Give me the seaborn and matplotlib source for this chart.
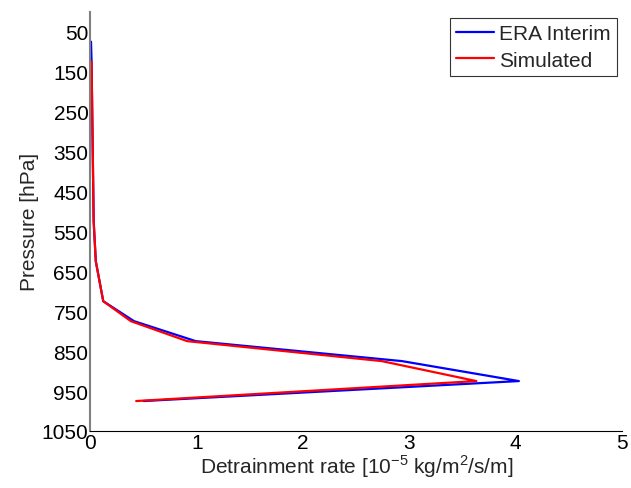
import pandas as pd
import numpy as np
import seaborn as sns
import matplotlib.pyplot as plt

# profiles
p_era = [75, 125, 225, 325, 425, 525, 625, 725, 775, 825, 875, 925, 975]
era = [0.005, 0.01, 0.015, 0.02, 0.025, 0.03, 0.05, 0.12, 0.41, 0.99, 2.93, 4.03, 0.50]
p_sim = [125, 225, 325, 425, 525, 625, 725, 775, 825, 875, 925, 975]
sim = [0.01, 0.015, 0.02, 0.025, 0.03, 0.05, 0.12, 0.38, 0.91, 2.74, 3.63, 0.43]

df = pd.concat([
    pd.DataFrame({"Pressure": p_era, "Rate": era, "Source": "ERA Interim"}),
    pd.DataFrame({"Pressure": p_sim, "Rate": sim, "Source": "Simulated"}),
])

sns.set_style("white")
plt.rcParams["font.family"] = ["Liberation Sans", "DejaVu Sans"]
plt.rcParams["mathtext.fontset"] = "custom"
plt.rcParams["mathtext.rm"] = "Liberation Sans"

fig = plt.figure(figsize=(6.31, 4.89), dpi=100)
ax = fig.add_axes([0.1434, 0.1166, 0.8423, 0.8574])

sns.lineplot(data=df, x="Rate", y="Pressure", hue="Source", sort=False, estimator=None,
             palette={"ERA Interim": "#0000ff", "Simulated": "#ff0000"}, linewidth=1.6, ax=ax)

ax.set_xlim(0, 5)
ax.set_ylim(1050, 0)
ax.set_yticks(np.arange(50, 1051, 100))
ax.set_xticks(range(6))
ax.tick_params(direction="in", length=4, width=0.8, labelsize=15, colors="black", pad=1.5)
for s in ["top", "right"]:
    ax.spines[s].set_visible(False)
ax.spines["left"].set_color("#808080")
ax.spines["left"].set_linewidth(1.5)
ax.spines["bottom"].set_color("black")
ax.spines["bottom"].set_linewidth(0.8)

ax.set_xlabel("Detrainment rate [10$^{\\mathrm{-5}}$ kg/m$^{\\mathrm{2}}$/s/m]", fontsize=15, labelpad=0)
ax.set_ylabel("Pressure [hPa]", fontsize=15, labelpad=2)

leg = ax.legend(loc="upper right", fontsize=15, frameon=True, fancybox=False,
                edgecolor="black", handlelength=1.8, borderpad=0.3, labelspacing=0.35,
                handletextpad=0.25, borderaxespad=0, bbox_to_anchor=(0.99, 0.985))
leg.get_frame().set_linewidth(0.8)

plt.savefig("out.png", dpi=100)
